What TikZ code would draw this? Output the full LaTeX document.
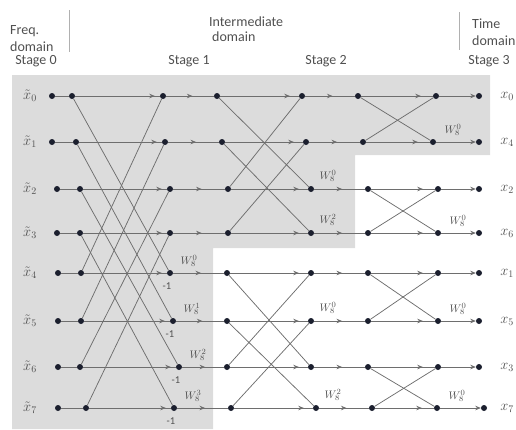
\documentclass[tikz,border=0pt]{standalone}
\usepackage{fontspec}
\setmainfont{Carlito}
\usetikzlibrary{arrows.meta,decorations.markings}
\definecolor{bgc}{HTML}{DCDCDC}
\definecolor{linec}{HTML}{6E6E6E}
\definecolor{dotc}{HTML}{1B1F2E}
\definecolor{txtc}{HTML}{505050}
\definecolor{sepc}{HTML}{B0B0B0}
\begin{document}
\begin{tikzpicture}[x=1pt,y=-1pt,
  dot/.style={circle,fill=dotc,inner sep=0pt,minimum size=6pt},
  ln/.style={color=linec,line width=0.75pt},
  tipat/.style={postaction={decorate},decoration={markings,mark=at position #1 with {\arrow{Stealth[length=5.5pt,width=4.5pt]}}}},
  tipend/.style={-{Stealth[length=5.5pt,width=4.5pt]}},
  hdr/.style={text=txtc,font=\fontsize{14}{16}\selectfont,inner sep=0pt},
  lbl/.style={text=txtc,font=\fontsize{14}{16}\selectfont,inner sep=0pt},
  wl/.style={text=txtc,font=\fontsize{11}{13}\selectfont,inner sep=0pt},
  ml/.style={text=txtc,font=\fontsize{10.5}{12}\selectfont,inner sep=0pt},
  sep/.style={draw=sepc,line width=0.8pt}
]
\useasboundingbox (0,0) rectangle (516,429);
% shaded background
\fill[bgc] (12,75) -- (490,75) -- (490,155) -- (355,155) -- (355,248) -- (213,248) -- (213,429) -- (12,429) -- cycle;
% header
\node[hdr,anchor=west] (fq) at (10,31) {Freq.};
\node[hdr,anchor=west] (fd) at (10,47) {domain};
\node[hdr,anchor=west] (im) at (209,22) {Intermediate};
\node[hdr,anchor=west] (idm) at (212,37) {domain};
\node[hdr,anchor=west] (tm) at (472,24) {Time};
\node[hdr,anchor=west] (td) at (472,41) {domain};
\draw[sep] (69,10) -- (69,52);
\draw[sep] (459,12) -- (459,50);
\node[hdr] (s0) at (36,61) {Stage 0};
\node[hdr] (s1) at (189,61) {Stage 1};
\node[hdr] (s2) at (326,61) {Stage 2};
\node[hdr] (s3) at (489,61) {Stage 3};
% dots
\foreach \r/\y/\xa/\xb/\xc/\xd/\xe/\xf/\xg/\xh/\o in {
  0/96/52/72/163/217/302/358/436/479/0,
  1/142/52/76/165/222/306/363/433/479/4,
  2/189/57/80/170/228/311/368/438/479/2,
  3/233/57/80/170/228/311/368/438/479/6,
  4/273/58/81/170/227/311/368/438/479/1,
  5/321/58/81/173/227/311/368/438/479/5,
  6/367/58/80/179/227/311/368/438/479/3,
  7/408/58/86/174/231/316/372/437/484/7} {
  \node[dot] (a\r) at (\xa,\y) {};
  \node[dot] (b\r) at (\xb,\y) {};
  \node[dot] (c\r) at (\xc,\y) {};
  \node[dot] (d\r) at (\xd,\y) {};
  \node[dot] (e\r) at (\xe,\y) {};
  \node[dot] (f\r) at (\xf,\y) {};
  \node[dot] (g\r) at (\xg,\y) {};
  \node[dot] (h\r) at (\xh,\y) {};
  \node[lbl] (in\r) at (30,\y) {$\tilde{x}_{\r}$};
  \node[lbl] (out\r) at (507,\y) {$x_{\o}$};
}
% horizontal lines
\foreach \r in {0,...,7} {
  \draw[ln] (a\r) -- (b\r);
  \draw[ln,tipat=-5pt] (b\r) -- (c\r);
  \draw[ln,tipat=0.55] (c\r) -- (d\r);
  \draw[ln,tipat=-9pt] (d\r) -- (e\r);
  \draw[ln,tipat=0.55] (e\r) -- (f\r);
  \draw[ln,tipat=-12pt] (f\r) -- (g\r);
  \draw[ln,tipend] (g\r) -- (h\r);
}
% butterflies
\foreach \p/\q in {0/4,1/5,2/6,3/7} {
  \draw[ln] (b\p) -- (c\q);
  \draw[ln] (b\q) -- (c\p);
}
\foreach \p/\q in {0/2,1/3,4/6,5/7} {
  \draw[ln] (d\p) -- (e\q);
  \draw[ln] (d\q) -- (e\p);
}
\foreach \p/\q in {0/1,2/3,4/5,6/7} {
  \draw[ln] (f\p) -- (g\q);
  \draw[ln] (f\q) -- (g\p);
}
% twiddle factors, stage 1
\foreach \r/\k in {4/0,5/1,6/2,7/3} {
  \node[wl] (wa\r) at ([xshift=19pt,yshift=12pt]c\r) {$W_8^{\k}$};
  \node[ml] (m\r) at ([xshift=-3pt,yshift=-13pt]c\r) {-1};
}
% stage 2
\foreach \r/\k in {2/0,3/2,5/0,7/2} {
  \node[wl] (wb\r) at ([xshift=17pt,yshift=13pt]e\r) {$W_8^{\k}$};
}
% stage 3
\foreach \r in {1,3,5,7} {
  \node[wl] (wc\r) at ([xshift=20pt,yshift=12pt]g\r) {$W_8^{0}$};
}
\end{tikzpicture}
\end{document}
